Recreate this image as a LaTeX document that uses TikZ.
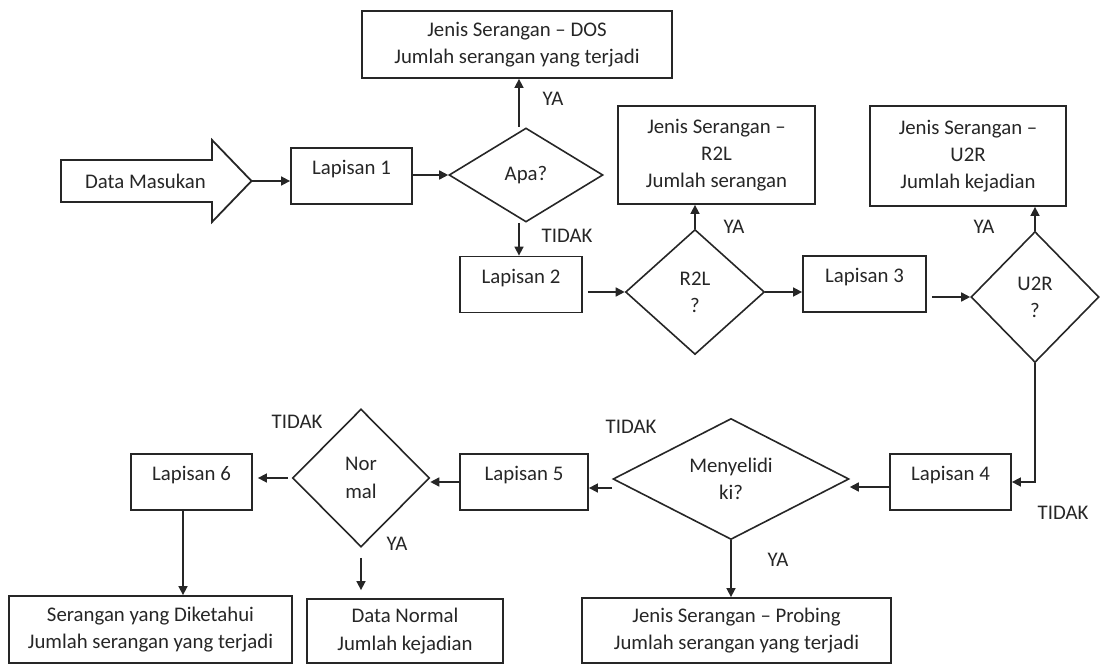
\documentclass[tikz,border=0pt]{standalone}
\usepackage{fontspec}
\setmainfont{Carlito}
\usetikzlibrary{shapes.geometric,arrows.meta}
\definecolor{ink}{HTML}{262626}
\begin{document}
\begin{tikzpicture}[x=0.5pt,y=-0.5pt,
  every node/.style={font=\fontsize{10.4pt}{13.6pt}\selectfont, text=ink},
  outline/.style={draw=ink, line width=0.9pt},
  box/.style={outline, align=center, inner sep=0pt},
  layer/.style={outline, inner xsep=0pt, inner ysep=0pt,
    text height=13.25pt, text depth=14.75pt, minimum width=#1},
  decision/.style={draw=ink, line width=0.8pt, diamond, inner sep=0pt, align=center},
  arr/.style={draw=ink, line width=0.8pt, -{Triangle[length=4.5pt,width=4.5pt]}},
  lbl/.style={inner sep=0pt}]
\useasboundingbox (0,0) rectangle (1100,664);

% input arrow
\draw[outline] (61,160) -- (212,160) -- (212,140) -- (251.5,181) -- (212,222)
  -- (212,202) -- (61,202) -- cycle;
\node (input) at (145.5,181) {Data Masukan};
\coordinate (inputtip) at (251.5,181);

% layers and decisions
\node[layer=60.5pt] (lap1) at (351.5,176) {Lapisan 1};
\node[decision, minimum width=77pt, minimum height=47pt, shape aspect=1.64] (apa) at (526,175) {Apa?};
\node[box, minimum width=155pt, minimum height=33.5pt] (dos) at (517,44.5)
  {Jenis Serangan – DOS\\Jumlah serangan yang terjadi};
\node[layer=61pt] (lap2) at (521,284.5) {Lapisan 2};
\node[decision, minimum width=69.5pt, minimum height=62.5pt] (r2l) at (695,292) {R2L\\?};
\node[box, minimum width=98.5pt, minimum height=49pt] (r2lbox) at (716.5,155)
  {Jenis Serangan –\\R2L\\Jumlah serangan};
\node[layer=61.5pt] (lap3) at (864.5,284) {Lapisan 3};
\node[decision, minimum width=64pt, minimum height=65.5pt] (u2r) at (1035,297) {U2R\\?};
\node[box, minimum width=98pt, minimum height=50pt] (u2rbox) at (968,156)
  {Jenis Serangan –\\U2R\\Jumlah kejadian};
\node[layer=60.5pt] (lap4) at (950.5,482) {Lapisan 4};
\node[decision, minimum width=118pt, minimum height=60.5pt, shape aspect=2] (probe) at (731,479) {Menyelidi\\ki?};
\node[layer=64pt] (lap5) at (524,482) {Lapisan 5};
\node[decision, minimum width=68.5pt, minimum height=69pt] (normal) at (361,478) {Nor\\mal};
\node[layer=60.5pt] (lap6) at (191.5,482) {Lapisan 6};
\node[box, minimum width=141.5pt, minimum height=33.5pt] (known) at (150.5,629.5)
  {Serangan yang Diketahui\\Jumlah serangan yang terjadi};
\node[box, minimum width=98pt, minimum height=32pt] (normalbox) at (405,631)
  {Data Normal\\Jumlah kejadian};
\node[box, minimum width=154.5pt, minimum height=32.5pt] (probebox) at (736.5,630.5)
  {Jenis Serangan – Probing\\Jumlah serangan yang terjadi};

% branch labels
\node[lbl] (ya1) at (553,99) {YA};
\node[lbl] (tidak1) at (567,236) {TIDAK};
\node[lbl] (ya2) at (734,227) {YA};
\node[lbl] (ya3) at (984,227) {YA};
\node[lbl] (tidak2) at (1063,513) {TIDAK};
\node[lbl] (tidak3) at (631,427) {TIDAK};
\node[lbl] (ya4) at (778,560) {YA};
\node[lbl] (tidak4) at (297,422) {TIDAK};
\node[lbl] (ya5) at (397,544) {YA};

% connectors
\draw[arr] (inputtip) -- (inputtip -| lap1.west);
\draw[arr] (lap1.east |- apa.west) -- (apa.west);
\draw[arr] ([xshift=-3.5pt]apa.north) -- ([xshift=-3.5pt]apa.north |- dos.south);
\draw[arr] ([xshift=-3.5pt]apa.south) -- ([xshift=-3.5pt]apa.south |- lap2.north);
\draw[arr] ([xshift=2.5pt]lap2.east |- r2l.west) -- (r2l.west);
\draw[arr] (r2l.north) -- (r2l.north |- r2lbox.south);
\draw[arr] (r2l.east) -- (r2l.east -| lap3.west);
\draw[arr] ([xshift=2.5pt]lap3.east |- u2r.west) -- (u2r.west);
\draw[arr] (u2r.north) -- (u2r.north |- u2rbox.south);
\draw[arr] (u2r.south) |- (lap4.east);
\draw[arr] ([yshift=-2.5pt]lap4.west) -- ([yshift=-2.5pt]lap4.west -| probe.east);
\draw[arr] ([yshift=-4.5pt]probe.west) -- ([yshift=-4.5pt]probe.west -| lap5.east);
\draw[arr] (probe.south) -- (probe.south |- probebox.north);
\draw[arr] (lap5.west) -- (lap5.west -| normal.east);
\draw[arr] ([xshift=-2pt]normal.west) -- ([xshift=2.5pt]lap6.east |- normal.west);
\draw[arr] ([yshift=-5pt]normal.south) -- ([yshift=4pt]normal.south |- normalbox.north);
\draw[arr] ([xshift=-4.25pt]lap6.south) -- ([xshift=-4.25pt]lap6.south |- known.north);
\end{tikzpicture}
\end{document}
